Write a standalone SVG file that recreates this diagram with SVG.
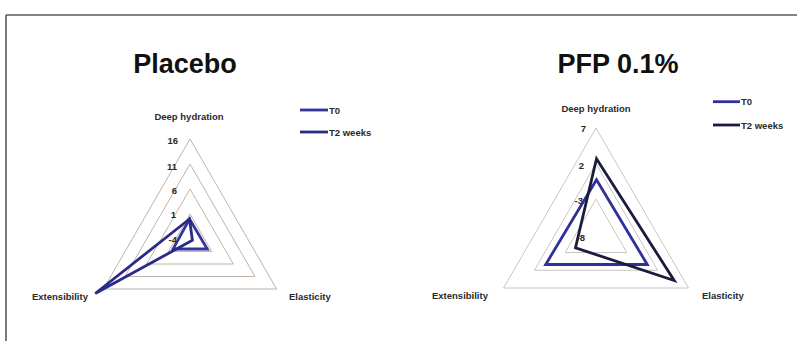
<svg xmlns="http://www.w3.org/2000/svg" width="797" height="341" viewBox="0 0 797 341">
<style>
.title{font-family:"Liberation Sans",Arial,sans-serif;font-weight:bold;font-size:27px;fill:#111;text-anchor:middle}
.lbl{font-family:"Liberation Sans",Arial,sans-serif;font-weight:bold;font-size:9.5px;fill:#2a2a2a}
.num{font-family:"Liberation Sans",Arial,sans-serif;font-weight:bold;font-size:9.5px;fill:#2a2a2a;text-anchor:end}
.ringA{fill:none;stroke:#b9aaa0;stroke-width:0.9}
.ringB{fill:none;stroke:#c2bfbb;stroke-width:0.9}
.ser{fill:none;stroke-width:2.8;stroke-linejoin:miter}
.t0a{stroke:#34349a}
.t2a{stroke:#2a2a88}
.t0b{stroke:#30309a}
.t2b{stroke:#1b1b3c}
</style>
<rect x="0" y="0" width="797" height="341" fill="#fff"/>
<g id="frame">
<path d="M6,15 H797 M6,15 V341" fill="none" stroke="#5a5a5a" stroke-width="1.6"/>
</g>

<g id="placebo">
<text class="title" x="185" y="73">Placebo</text>
<g id="placebo-grid">
<polygon class="ringA" points="190,139 276.6,289 103.4,289"/>
<polygon class="ringA" points="190,164 255,276.5 125,276.5"/>
<polygon class="ringA" points="190,189 233.3,264 146.7,264"/>
<polygon class="ringA" points="190,214 211.7,251.5 168.3,251.5"/>
</g>
<g id="placebo-labels">
<text class="lbl" x="189" y="120" text-anchor="middle">Deep hydration</text>
<text class="num" x="178" y="143.5">16</text>
<text class="num" x="177" y="169.5">11</text>
<text class="num" x="177" y="193.5">6</text>
<text class="num" x="176" y="218">1</text>
<text class="num" x="177" y="243">-4</text>
<text class="lbl" x="32" y="300">Extensibility</text>
<text class="lbl" x="289" y="300">Elasticity</text>
</g>
<g id="placebo-series">
<polygon class="ser t0a" points="189.5,219 207.3,249 173,249"/>
<polygon class="ser t2a" points="189.5,219 192.4,240.3 95.2,293.5"/>
</g>
<g id="placebo-legend">
<line class="ser t0a" x1="300" y1="110" x2="328" y2="110"/>
<line class="ser t2a" x1="300" y1="132" x2="328" y2="132"/>
<text class="lbl" x="329" y="113.5">T0</text>
<text class="lbl" x="329" y="135.5">T2 weeks</text>
</g>
</g>

<g id="pfp">
<text class="title" x="618" y="73">PFP 0.1%</text>
<g id="pfp-grid">
<polygon class="ringB" points="596,128 688.4,288 503.6,288"/>
<polygon class="ringB" points="596,163.6 657.6,270.3 534.4,270.3"/>
<polygon class="ringB" points="596,199.1 626.8,252.5 565.2,252.5"/>
</g>
<g id="pfp-labels">
<text class="lbl" x="596" y="111.5" text-anchor="middle">Deep hydration</text>
<text class="num" x="586" y="131.5">7</text>
<text class="num" x="584" y="168.5">2</text>
<text class="num" x="583" y="203.5">-3</text>
<text class="num" x="585" y="240.5">-8</text>
<text class="lbl" x="432" y="299">Extensibility</text>
<text class="lbl" x="702" y="299">Elasticity</text>
</g>
<g id="pfp-series">
<polygon class="ser t0b" points="596.5,179.7 647.3,264.5 545.7,264.5"/>
<polygon class="ser t2b" points="596.5,158.7 674.2,280.5 575.5,247.8"/>
</g>
<g id="pfp-legend">
<line class="ser t0b" x1="713" y1="101.7" x2="740" y2="101.7"/>
<line class="ser t2b" x1="713" y1="125" x2="740" y2="125"/>
<text class="lbl" x="741" y="105">T0</text>
<text class="lbl" x="741" y="128.5">T2 weeks</text>
</g>
</g>
</svg>
